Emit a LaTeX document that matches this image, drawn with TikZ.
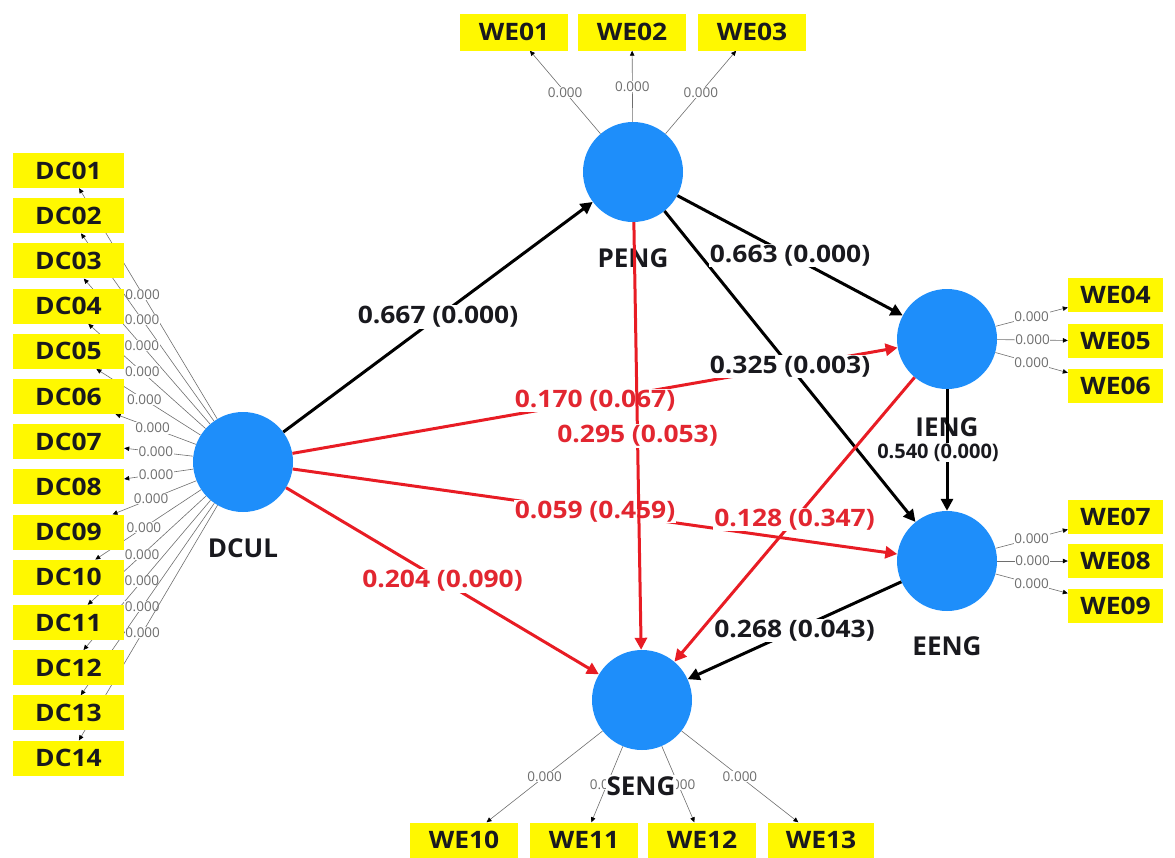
\documentclass[tikz,border=0pt]{standalone}
\usepackage{fontspec}
\setmainfont{Open Sans}
\newfontfamily\widefont{Open Sans}[FakeStretch=1.1]
\usetikzlibrary{arrows.meta}
\pgfdeclarelayer{bg}
\pgfsetlayers{bg,main}

\definecolor{lvblue}{RGB}{30,142,250}
\definecolor{mvyellow}{RGB}{255,248,0}
\definecolor{pathred}{RGB}{232,28,36}
\definecolor{labred}{RGB}{226,38,48}
\definecolor{loadgray}{RGB}{110,110,110}
\definecolor{ink}{RGB}{25,25,30}

\begin{document}
\begin{tikzpicture}[x=1pt,y=-1pt,
  latent/.style={circle,fill=lvblue,minimum size=100pt,inner sep=0pt},
  manifest/.style={fill=mvyellow,minimum width=110pt,minimum height=35pt,inner sep=0pt,
    text=ink,font=\widefont\fontsize{24}{24}\selectfont\bfseries},
  cname/.style={fill=white,inner sep=1pt,text=ink,font=\fontsize{26}{26}\selectfont\bfseries},
  loading/.style={draw=loadgray,line width=0.6pt,-{Triangle[length=5pt,width=4.5pt,black]}},
  ldlab/.style={fill=white,inner sep=0.6pt,text=loadgray,font=\fontsize{13.5}{13.5}\selectfont},
  blackpath/.style={draw=black,line width=3pt,-{Triangle[length=12pt,width=12pt]}},
  redpath/.style={draw=pathred,line width=3pt,-{Triangle[length=12pt,width=12pt]}},
  blab/.style={fill=white,inner sep=1pt,text=ink,font=\widefont\fontsize{24}{24}\selectfont\bfseries},
  rlab/.style={fill=white,inner sep=1pt,text=labred,font=\widefont\fontsize{24}{24}\selectfont\bfseries},
  smallblab/.style={fill=white,inner sep=1pt,text=ink,font=\fontsize{20}{20}\selectfont\bfseries}]
\useasboundingbox (0,0) rectangle (1175,857);

% latent variables
\node[latent] (DCUL) at (243,462) {};
\node[latent] (PENG) at (633,172) {};
\node[latent] (IENG) at (947,339) {};
\node[latent] (EENG) at (947,561) {};
\node[latent] (SENG) at (642,700) {};

% indicator boxes
\foreach \i/\n in {1/DC01,2/DC02,3/DC03,4/DC04,5/DC05,6/DC06,7/DC07,
                   8/DC08,9/DC09,10/DC10,11/DC11,12/DC12,13/DC13,14/DC14}
  \node[manifest,minimum width=111pt] (\n) at (68.5,{170.5+(\i-1)*45.2}) {\n};

\node[manifest,minimum width=108pt,minimum height=37pt] (WE01) at (514,32) {WE01};
\node[manifest,minimum width=108pt,minimum height=37pt] (WE02) at (632,32) {WE02};
\node[manifest,minimum width=108pt,minimum height=37pt] (WE03) at (752,32) {WE03};

\node[manifest,minimum width=95pt,minimum height=34pt] (WE04) at (1115.5,295) {WE04};
\node[manifest,minimum width=95pt,minimum height=34pt] (WE05) at (1115.5,341) {WE05};
\node[manifest,minimum width=95pt,minimum height=34pt] (WE06) at (1115.5,386) {WE06};
\node[manifest,minimum width=95pt,minimum height=34pt] (WE07) at (1115.5,517) {WE07};
\node[manifest,minimum width=95pt,minimum height=34pt] (WE08) at (1115.5,561) {WE08};
\node[manifest,minimum width=95pt,minimum height=34pt] (WE09) at (1115.5,606) {WE09};

\node[manifest,minimum width=108pt] (WE10) at (464,840) {WE10};
\node[manifest,minimum width=108pt] (WE11) at (584,840) {WE11};
\node[manifest,minimum width=108pt] (WE12) at (702,840) {WE12};
\node[manifest,minimum width=106pt] (WE13) at (821,840) {WE13};

% outer loadings, drawn behind the boxes
\begin{pgfonlayer}{bg}
  \foreach \n in {DC01,DC02,DC03,DC04,DC05,DC06,DC07,DC08,DC09,DC10,DC11,DC12,DC13,DC14}
    \draw[loading] (DCUL) -- node[ldlab,pos=0.54] {0.000} (\n);
  \foreach \n in {WE01,WE02,WE03}
    \draw[loading] (PENG) -- node[ldlab] {0.000} (\n);
  \foreach \n in {WE04,WE05,WE06}
    \draw[loading] (IENG) -- node[ldlab] {0.000} (\n);
  \foreach \n in {WE07,WE08,WE09}
    \draw[loading] (EENG) -- node[ldlab] {0.000} (\n);
  \foreach \n in {WE10,WE11,WE12,WE13}
    \draw[loading] (SENG) -- node[ldlab] {0.000} (\n);
\end{pgfonlayer}

% construct names
\node[cname] (DCULt) at (243,548) {DCUL};
\node[cname] (PENGt) at (633,258) {PENG};
\node[cname] (IENGt) at (947,427) {IENG};
\node[cname] (EENGt) at (947,646) {EENG};
\node[cname] (SENGt) at (641,786) {SENG};

% structural paths
\draw[blackpath] (DCUL) -- (PENG) coordinate[midway] (m1);
\draw[blackpath] (PENG) -- (IENG) coordinate[midway] (m2);
\draw[blackpath] (PENG) -- (EENG) coordinate[pos=0.5] (m3);
\draw[redpath] (DCUL) -- (IENG) coordinate[midway] (m4);
\draw[redpath] (DCUL) -- (EENG) coordinate[midway] (m5);
\draw[redpath] (DCUL) -- (SENG) coordinate[midway] (m6);
\draw[redpath] (IENG) -- (SENG) coordinate[midway] (m8);
\draw[blackpath] (IENG) -- (EENG) coordinate[pos=0.52] (m9);
\draw[blackpath] (EENG) -- (SENG) coordinate[midway] (m10);

\node[blab] (l1) at (m1) {0.667 (0.000)};
\node[blab] (l2) at (m2) {0.663 (0.000)};
\node[blab] (l3) at (m3) {0.325 (0.003)};
\node[rlab] (l4) at (m4) {0.170 (0.067)};
\node[rlab] (l5) at (m5) {0.059 (0.459)};
\node[rlab] (l6) at (m6) {0.204 (0.090)};
\node[rlab] (l8) at (m8) {0.128 (0.347)};
\node[smallblab,xshift=-9pt] (l9) at (m9) {0.540 (0.000)};
\node[blab] (l10) at (m10) {0.268 (0.043)};

\draw[redpath] (PENG) -- (SENG) coordinate[midway] (m7);
\node[rlab] (l7) at (m7) {0.295 (0.053)};
\end{tikzpicture}
\end{document}
